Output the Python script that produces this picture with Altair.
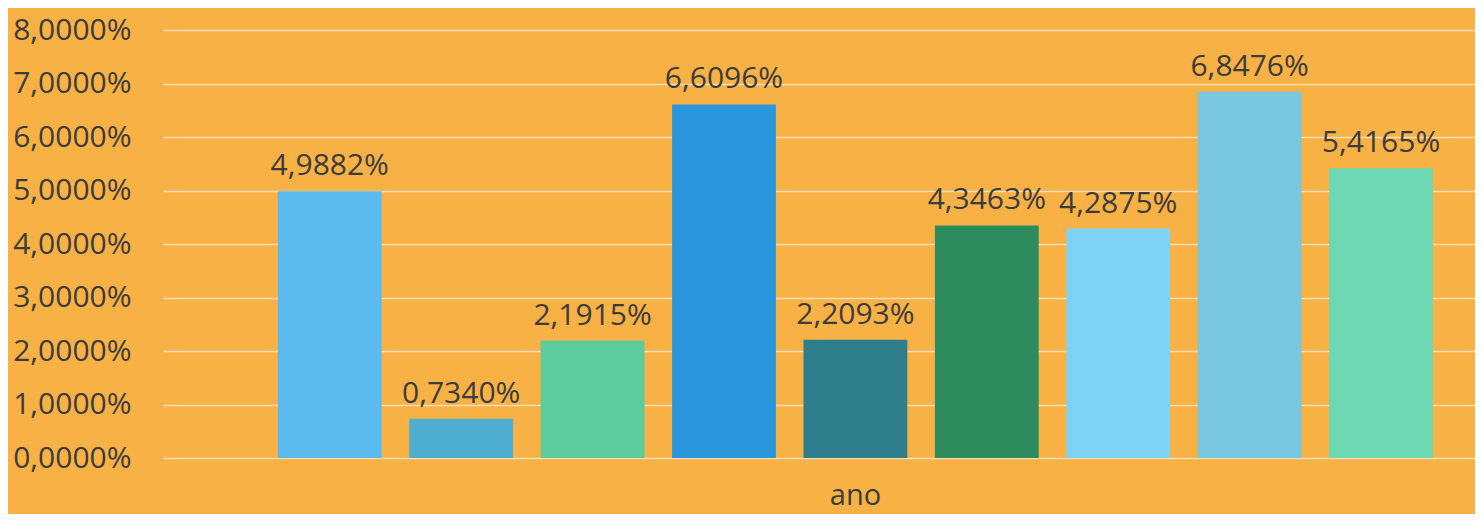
import altair as alt
import pandas as pd

categories = ["1", "2", "3", "4", "5", "6", "7", "8", "9"]
values = [4.9882, 0.7340, 2.1915, 6.6096, 2.2093, 4.3463, 4.2875, 6.8476, 5.4165]
colors = ["#5BBBEF", "#4DAED2", "#5CCB9E", "#2A96DC", "#2F7E8C", "#2E8B5E",
          "#7ED2F4", "#79C7E0", "#6DD8B3"]

df = pd.DataFrame({"cat": categories, "val": values})

FONT = "Open Sans"
TXT = "#3c3c3c"
fmt = "replace(format(datum.val, '.4f'), '.', ',') + '%'"

x = alt.X("cat:N", sort=categories,
          scale=alt.Scale(paddingInner=0.21, paddingOuter=0.597, align=0.732),
          axis=alt.Axis(title="ano", labels=False, ticks=False, domain=False, grid=False,
                        titleFont=FONT, titleFontSize=29, titleFontWeight="normal",
                        titleColor=TXT, titleX=692, titleY=46, titleBaseline="alphabetic",
                        titleAnchor="start", titleAlign="center"))
y = alt.Y("val:Q", scale=alt.Scale(domain=[0, 8], nice=False),
          axis=alt.Axis(title=None, values=[0, 1, 2, 3, 4, 5, 6, 7, 8],
                        labelExpr="replace(format(datum.value, '.4f'), '.', ',') + '%'",
                        labelFont=FONT, labelFontSize=30, labelColor=TXT,
                        labelPadding=32, ticks=False, domain=False,
                        grid=True, gridColor="#F2DDB6", gridWidth=1.5))

base = alt.Chart(df)
bars = base.mark_bar().encode(
    x=x, y=y,
    color=alt.Color("cat:N", scale=alt.Scale(domain=categories, range=colors), legend=None),
)
labels = base.mark_text(dy=-16, baseline="alphabetic", font=FONT, fontSize=30, color=TXT).transform_calculate(
    lab=fmt
).encode(x=alt.X("cat:N", sort=categories), y="val:Q", text="lab:N")

chart = (bars + labels).properties(
    width=1312, height=428,
    autosize=alt.AutoSizeParams(type="none"),
    padding={"left": 155, "top": 22, "right": 0, "bottom": 56},
    background="#F8B145",
).configure_view(stroke=None)

chart.save("out.html", embed_options={"renderer": "svg", "actions": False})
